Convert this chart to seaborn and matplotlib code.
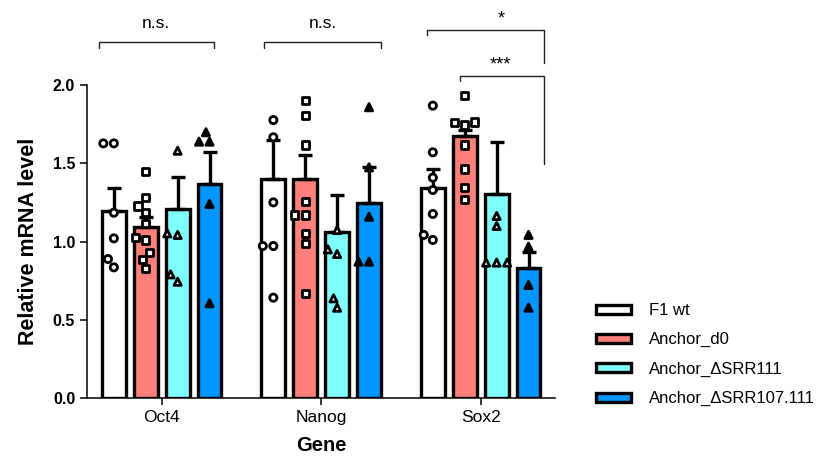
import numpy as np
import pandas as pd
import matplotlib
matplotlib.use("Agg")
import matplotlib.pyplot as plt
from matplotlib.patches import Patch
import seaborn as sns

genes = ["Oct4", "Nanog", "Sox2"]
groups = ["F1 wt", "Anchor_d0", "Anchor_ΔSRR111", "Anchor_ΔSRR107.111"]
colors = ["#FFFFFF", "#FF7F7A", "#7FFFFF", "#0096FF"]
markers = ["o", "s", "^", "^"]
marker_faces = ["white", "white", "white", "black"]

# bar heights (mean) per group, gene order Oct4 / Nanog / Sox2
mean_f1 = [1.197, 1.399, 1.344]
mean_d0 = [1.095, 1.397, 1.674]
mean_srr111 = [1.208, 1.063, 1.304]
mean_srr107 = [1.365, 1.248, 0.829]

# upper error (SEM)
sem_f1 = [0.147, 0.250, 0.117]
sem_d0 = [0.063, 0.158, 0.038]
sem_srr111 = [0.202, 0.234, 0.330]
sem_srr107 = [0.209, 0.226, 0.106]

# individual replicates
pts_f1 = [[1.627, 1.627, 1.184, 1.020, 0.888, 0.835],
          [1.776, 1.666, 1.250, 0.971, 0.971, 0.641],
          [1.868, 1.570, 1.408, 1.329, 1.176, 1.042, 1.010]]
pts_d0 = [[1.446, 1.280, 1.227, 1.184, 1.116, 1.027, 1.010, 0.931, 0.886, 0.826],
          [1.900, 1.804, 1.617, 1.257, 1.169, 1.169, 1.052, 0.988, 0.669],
          [1.932, 1.764, 1.744, 1.762, 1.617, 1.463, 1.346, 1.270]]
pts_srr111 = [[1.580, 1.052, 1.042, 0.790, 0.743],
              [1.073, 0.950, 0.920, 0.637, 0.577],
              [1.163, 1.099, 0.865, 0.865, 0.865]]
pts_srr107 = [[1.698, 1.638, 1.638, 1.240, 0.605],
              [1.858, 1.474, 1.158, 0.871, 0.871],
              [1.042, 0.967, 0.722, 0.577]]

means = [mean_f1, mean_d0, mean_srr111, mean_srr107]
sems = [sem_f1, sem_d0, sem_srr111, sem_srr107]
points = [pts_f1, pts_d0, pts_srr111, pts_srr107]

bars_df = pd.DataFrame([
    {"gene": gene, "group": grp, "mean": means[i][j]}
    for i, grp in enumerate(groups) for j, gene in enumerate(genes)
])
pts_df = pd.DataFrame([
    {"gene": gene, "group": grp, "value": v}
    for i, grp in enumerate(groups) for j, gene in enumerate(genes)
    for v in points[i][j]
])

sns.set_style("ticks")
plt.rcParams["font.family"] = ["Liberation Sans", "DejaVu Sans"]
plt.rcParams["text.color"] = "black"
plt.rcParams["axes.labelcolor"] = "black"

fig, ax = plt.subplots(figsize=(8.18, 4.63), dpi=100)
fig.subplots_adjust(left=0.1064, right=0.6785, bottom=0.1404, top=0.8164)

sns.barplot(data=bars_df, x="gene", y="mean", hue="group", order=genes,
            hue_order=groups, palette=colors, saturation=1, edgecolor="black",
            linewidth=2.4, width=0.8, gap=0.25, errorbar=None, legend=False,
            ax=ax, zorder=2)

# one-sided error bars on top of each bar
for cont, sem in zip(ax.containers, sems):
    xs = [b.get_x() + b.get_width() / 2 for b in cont]
    tops = [b.get_height() for b in cont]
    ax.errorbar(xs, tops, yerr=[np.zeros(len(sem)), sem], fmt="none",
                ecolor="black", elinewidth=2.4, capsize=4.7, capthick=2.4,
                zorder=3)

# replicate points
for i, grp in enumerate(groups):
    sub = pts_df[pts_df["group"] == grp]
    sns.swarmplot(data=sub, x="gene", y="value", hue="group", order=genes,
                  hue_order=groups, dodge=True, marker=markers[i],
                  palette={g: marker_faces[i] for g in groups},
                  edgecolor="black", linewidth=2.0, size=5.2, legend=False,
                  ax=ax, zorder=4)

ax.set_xlim(-0.468, 2.466)
ax.set_ylim(0, 2.0)
ax.set_yticks([0, 0.5, 1.0, 1.5, 2.0])
ax.set_yticklabels(["0.0", "0.5", "1.0", "1.5", "2.0"], fontweight="bold",
                   fontsize=11.5)
ax.set_xticks(range(len(genes)))
ax.set_xticklabels(genes, fontsize=12.5)
ax.set_xlabel("Gene", fontweight="bold", fontsize=14.5, labelpad=8,
              color="black")
ax.set_ylabel("Relative mRNA level", fontweight="bold", fontsize=15.5,
              labelpad=10, color="black")
sns.despine(ax=ax)
ax.spines["left"].set_bounds(0, 2.0)
for s in ["left", "bottom"]:
    ax.spines[s].set_linewidth(1.1)
    ax.spines[s].set_color("black")
ax.tick_params(direction="out", length=5, width=1.1, colors="black")

# significance brackets
line_kw = dict(color="#222222", lw=1.0, clip_on=False)
ax.plot([-0.39, -0.39, 0.33, 0.33], [2.238, 2.277, 2.277, 2.238], **line_kw)
ax.plot([0.643, 0.643, 1.376, 1.376], [2.238, 2.277, 2.277, 2.238], **line_kw)
ax.plot([1.661, 1.661, 2.397, 2.397], [2.320, 2.351, 2.351, 2.140], **line_kw)
ax.plot([1.870, 1.870, 2.397, 2.397], [2.026, 2.057, 2.057, 1.495], **line_kw)
ax.text(-0.036, 2.396, "n.s.", ha="center", va="center", fontsize=12.5,
        clip_on=False)
ax.text(1.011, 2.396, "n.s.", ha="center", va="center", fontsize=12.5,
        clip_on=False)
ax.text(2.127, 2.42, "*", ha="center", va="center", fontsize=13,
        clip_on=False)
ax.text(2.121, 2.125, "***", ha="center", va="center", fontsize=13,
        clip_on=False)

handles = [Patch(facecolor=c, edgecolor="black", linewidth=2.4) for c in colors]
fig.legend(handles, groups, loc="upper left",
           bbox_to_anchor=(596 / 818, 1 - 303 / 463), frameon=False,
           fontsize=12, handlelength=2.1, handleheight=0.45,
           handletextpad=1.1, labelspacing=0.86, borderpad=0,
           borderaxespad=0)

fig.savefig("out.png", dpi=100)
